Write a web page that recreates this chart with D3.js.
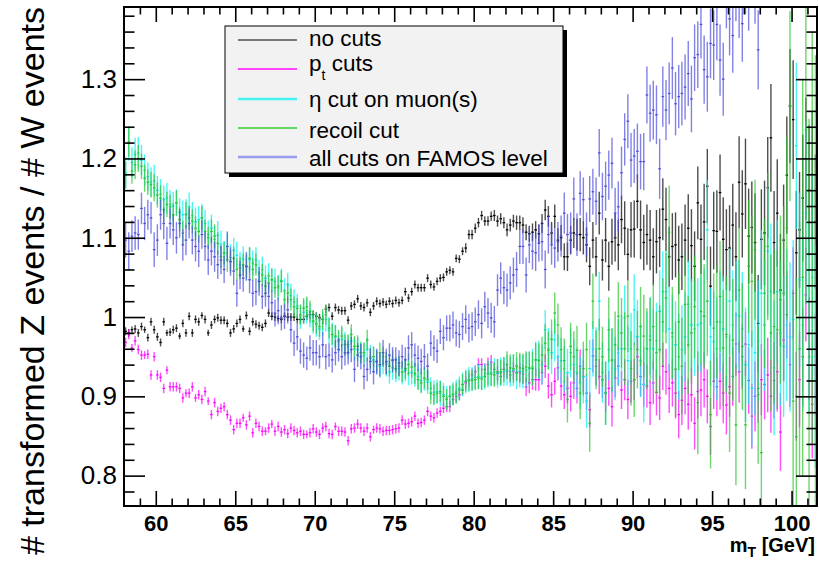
<!DOCTYPE html>
<html>
<head>
<meta charset="utf-8">
<script src="https://cdn.jsdelivr.net/npm/d3@7/dist/d3.min.js"></script>
<style>
  body { margin: 0; background: #fff; }
  svg { display: block; }
  text { font-family: "Liberation Sans", Arial, Helvetica, sans-serif; }
</style>
</head>
<body>
<svg id="chart" width="820" height="562"></svg>
<script>
// Histogram binning: 0.2 GeV bins starting at 58 GeV (218 bins up to 101.6 GeV)
const binLow = 58;
const binWidth = 0.2;

// Ratio of transformed Z events to W events, one value per bin
const noCuts = [
  .982,.980,.984,.985,.980, .988,.984,.974,.994,.984, .975,.968,.994,.980,.981, .984,.986,.976,.992,.980,
  1.001,.980,.997,.994,1.002, .997,.980,.990,.997,.999, .996,.996,.992,.980,.985, .992,.997,.985,1.002,.982,
  .994,.991,.989,.987,.992, 1.005,1.001,1.000,.998,.997, 1.001,1.000,1.000,1.000,.997, .997,.997,1.001,1.003,1.003,
  1.001,.999,.997,1.010,1.012, 1.001,1.012,1.009,1.008,1.008, .996,1.014,1.016,1.023,1.014, 1.012,1.018,1.006,1.014,1.020,
  1.017,1.019,1.016,1.020,1.017, 1.021,1.018,1.021,1.032,1.024, 1.032,1.041,1.037,1.037,1.037, 1.049,1.041,1.038,1.045,1.049,
  1.050,1.057,1.059,1.057,1.074, 1.073,1.083,1.087,1.104,1.104, 1.112,1.119,1.128,1.121,1.121, 1.127,1.128,1.121,1.124,1.119,
  1.110,1.116,1.121,1.119,1.119, 1.116,1.107,1.105,1.107,1.110, 1.105,1.118,1.135,1.127,1.106, 1.127,1.097,1.100,1.076,1.076,
  1.097,1.106,1.104,1.104,1.100, 1.091,1.064,1.097,1.076,1.131, 1.072,1.097,1.064,1.095,1.100, 1.091,1.123,1.112,1.079,1.110,
  1.111,1.146,1.110,1.094,1.104, 1.097,1.076,1.095,1.100,1.136, 1.123,1.076,1.089,1.091,1.072, 1.076,1.097,1.112,1.090,1.064,
  1.144,1.098,1.120,1.165,1.039, 1.109,1.108,1.157,1.098,1.085, 1.087,1.116,1.076,1.170,1.130, 1.168,1.102,1.113,1.094,.992,
  1.098,1.106,1.163,1.226,1.094, 1.131,1.034,1.097,1.179,1.266, 1.249,1.081,1.110,1.150,1.200, 1.160,1.180,1.120
];
const noCutsErr = [
  .005,.005,.004,.005,.005, .005,.004,.005,.005,.005, .005,.005,.005,.004,.005, .005,.005,.004,.005,.005,
  .005,.005,.005,.005,.004, .005,.004,.005,.005,.005, .005,.005,.005,.005,.005, .005,.005,.004,.005,.005,
  .005,.005,.005,.005,.005, .005,.005,.005,.004,.005, .005,.005,.005,.005,.005, .005,.005,.005,.005,.005,
  .005,.005,.005,.005,.005, .005,.005,.005,.005,.005, .005,.005,.005,.005,.005, .005,.005,.005,.005,.005,
  .005,.005,.005,.005,.005, .005,.005,.005,.005,.005, .005,.005,.005,.005,.005, .005,.005,.005,.005,.005,
  .005,.005,.005,.005,.005, .005,.005,.006,.006,.006, .006,.006,.006,.006,.006, .006,.007,.007,.007,.007,
  .008,.008,.008,.009,.009, .010,.010,.010,.011,.011, .012,.012,.013,.013,.014, .015,.015,.016,.017,.018,
  .018,.019,.020,.021,.021, .022,.024,.023,.025,.027, .026,.028,.031,.029,.030, .032,.030,.034,.033,.035,
  .036,.034,.037,.035,.038, .038,.036,.040,.037,.039, .040,.038,.042,.041,.043, .042,.045,.043,.046,.044,
  .046,.044,.048,.047,.050, .049,.052,.048,.053,.051, .054,.052,.056,.058,.055, .057,.060,.058,.062,.061,
  .063,.066,.064,.068,.065, .068,.071,.070,.074,.072, .075,.078,.073,.080,.077, .082,.079,.085
];

const ptCuts = [
  .968,.978,.961,.970,.959, .952,.952,.953,.927,.950, .927,.924,.910,.933,.912, .912,.912,.910,.898,.904,
  .904,.912,.898,.902,.896, .906,.894,.877,.892,.881, .885,.887,.877,.870,.858, .866,.866,.873,.864,.875,
  .854,.866,.862,.856,.856, .860,.865,.856,.862,.855, .858,.853,.860,.857,.854, .856,.852,.852,.854,.859,
  .855,.852,.860,.862,.853, .852,.862,.856,.856,.855, .844,.859,.860,.865,.860, .856,.860,.849,.858,.860,
  .859,.856,.857,.857,.858, .859,.860,.870,.865,.866, .868,.875,.866,.867,.870, .881,.875,.873,.879,.881,
  .885,.887,.887,.896,.900, .902,.908,.917,.921,.927, .931,.940,.940,.934,.940, .943,.934,.929,.925,.934,
  .932,.927,.932,.930,.930, .928,.912,.917,.921,.921, .921,.930,.938,.913,.902, .919,.936,.913,.902,.910,
  .900,.917,.910,.938,.925, .904,.883,.951,.938,.925, .921,.904,.910,.887,.923, .938,.908,.921,.896,.919,
  .921,.950,.925,.915,.913, .892,.917,.905,.898,.938, .931,.910,.917,.904,.877, .895,.910,.890,.902,.866,
  .906,.908,.921,.900,.862, .919,.912,.919,.904,.889, .912,.925,.966,.931,.950, .966,.920,.875,.900,.910,
  .921,.915,.927,.900,.920, .931,.855,.971,1.003,.940, 1.030,.900,.921,.950,1.028, .960,.890,.940
];
const ptCutsErr = [
  .006,.006,.005,.006,.006, .006,.005,.006,.006,.006, .006,.006,.006,.005,.006, .006,.006,.006,.006,.005,
  .006,.006,.005,.006,.006, .006,.005,.006,.006,.006, .006,.006,.006,.006,.006, .006,.006,.005,.006,.006,
  .006,.006,.006,.006,.005, .006,.005,.006,.006,.006, .006,.006,.006,.006,.006, .006,.006,.005,.006,.006,
  .006,.006,.006,.006,.006, .006,.005,.006,.006,.006, .006,.006,.006,.006,.006, .006,.006,.006,.005,.006,
  .006,.006,.006,.006,.006, .006,.006,.006,.006,.006, .006,.006,.006,.006,.006, .006,.006,.006,.006,.006,
  .006,.007,.007,.007,.007, .007,.007,.007,.008,.008, .008,.008,.008,.008,.009, .009,.009,.009,.010,.010,
  .010,.010,.011,.011,.012, .012,.012,.013,.013,.014, .014,.015,.015,.016,.016, .017,.016,.018,.018,.019,
  .019,.020,.019,.021,.020, .021,.022,.021,.023,.022, .023,.024,.022,.025,.024, .025,.024,.026,.025,.027,
  .026,.027,.025,.028,.027, .028,.027,.029,.028,.030, .029,.031,.030,.032,.030, .031,.033,.032,.034,.033,
  .034,.033,.035,.034,.036, .035,.037,.036,.038,.037, .038,.037,.040,.039,.041, .040,.042,.041,.044,.043,
  .045,.044,.047,.046,.048, .050,.049,.052,.055,.053, .058,.056,.060,.062,.059, .065,.068,.064
];

const etaCut = [
  1.182,1.219,1.195,1.205,1.207, 1.198,1.185,1.177,1.170,1.172, 1.160,1.155,1.148,1.150,1.142, 1.140,1.144,1.132,1.129,1.130,
  1.139,1.128,1.120,1.123,1.125, 1.118,1.104,1.112,1.098,1.103, 1.092,1.080,1.089,1.075,1.084, 1.078,1.066,1.073,1.063,1.072,
  1.068,1.072,1.055,1.060,1.049, 1.052,1.047,1.045,1.037,1.046, 1.033,1.041,1.027,1.019,1.014, 1.000,1.006,1.008,1.002,.994,
  .990,.985,.992,.997,.983, .978,.975,.969,.972,.966, .962,.970,.960,.959,.955, .952,.959,.950,.946,.943,
  .938,.942,.940,.931,.936, .934,.935,.930,.933,.929, .930,.927,.925,.920,.922, .918,.910,.905,.906,.904,
  .902,.898,.900,.903,.906, .910,.915,.919,.921,.922, .924,.925,.924,.925,.928, .930,.931,.929,.931,.931,
  .933,.931,.933,.929,.932, .931,.933,.935,.937,.946, .946,.940,.984,.960,.955, .971,.950,.945,.935,.930,
  .955,.940,.930,.917,.925, .894,.935,.960,.950,1.020, .930,.904,.959,.945,.935, .955,.960,.999,.945,.960,
  1.009,.975,.945,.915,.960, .976,.960,.970,1.007,1.032, 1.032,.985,.975,.965,.950, .959,.975,1.016,.990,.985,
  .990,.992,1.001,1.110,.975, .969,.960,.994,.985,.975, 1.020,.990,1.003,1.001,.985, .940,.965,.910,.955,.970,
  1.030,.990,1.083,1.032,.936, 1.032,.980,.963,.990,.975, .997,1.216,1.047,.990,1.131, 1.000,1.050,.950
];
const etaCutErr = [
  .020,.022,.019,.021,.020, .019,.020,.018,.019,.020, .018,.019,.018,.019,.018, .018,.017,.018,.018,.019,
  .018,.017,.018,.017,.018, .017,.018,.017,.017,.018, .017,.016,.017,.017,.016, .017,.016,.016,.017,.016,
  .016,.016,.017,.016,.016, .016,.015,.016,.016,.015, .016,.015,.015,.016,.015, .015,.015,.016,.015,.015,
  .015,.014,.015,.015,.016, .015,.015,.014,.015,.015, .015,.016,.015,.015,.014, .015,.015,.015,.016,.015,
  .015,.014,.015,.015,.015, .016,.015,.015,.014,.015, .015,.015,.016,.015,.015, .015,.014,.015,.015,.016,
  .015,.015,.014,.015,.015, .015,.015,.015,.016,.015, .015,.016,.016,.016,.017, .017,.017,.018,.018,.018,
  .019,.019,.020,.020,.021, .021,.022,.022,.023,.023, .024,.025,.025,.026,.027, .027,.028,.029,.029,.030,
  .031,.032,.031,.033,.034, .034,.036,.035,.037,.037, .038,.040,.039,.041,.040, .042,.043,.041,.044,.045,
  .045,.047,.046,.048,.047, .049,.050,.048,.052,.051, .052,.054,.053,.055,.054, .056,.057,.055,.058,.059,
  .059,.061,.060,.063,.062, .063,.065,.064,.067,.066, .067,.069,.068,.071,.072, .072,.075,.073,.078,.076,
  .080,.083,.081,.086,.085, .090,.092,.089,.096,.094, .100,.105,.110,.108,.115, .120,.130,.140
];

const recoilCut = [
  1.179,1.221,1.184,1.192,1.200, 1.190,1.175,1.170,1.167,1.163, 1.154,1.150,1.135,1.142,1.139, 1.129,1.144,1.123,1.106,1.129,
  1.125,1.121,1.112,1.108,1.125, 1.108,1.100,1.108,1.102,1.093, 1.076,1.081,1.072,1.070,1.074, 1.060,1.062,1.066,1.064,1.074,
  1.060,1.066,1.045,1.053,1.039, 1.043,1.047,1.037,1.039,1.045, 1.022,1.030,1.022,1.013,1.011, 1.003,1.011,1.013,1.007,.995,
  .992,.988,.997,1.003,.986, .978,.976,.971,.976,.965, .965,.978,.963,.963,.955, .955,.971,.948,.950,.944,
  .955,.950,.942,.938,.945, .935,.938,.931,.935,.940, .937,.929,.921,.917,.923, .921,.904,.902,.904,.906,
  .900,.896,.900,.902,.904, .908,.915,.919,.920,.920, .921,.923,.922,.925,.929, .928,.927,.931,.930,.934,
  .940,.936,.935,.938,.936, .935,.937,.936,.935,.946, .945,.952,.967,.958,.972, 1.005,.990,.959,.945,.896,
  .963,.950,.958,.904,.935, .959,.866,1.020,.946,.960, .950,.904,.984,.946,.965, 1.001,.980,.960,1.001,.935,
  .921,.959,.988,.976,.960, .971,.988,.955,.959,.994, 1.024,1.107,.980,.934,.994, .938,1.016,.965,.980,1.013,
  .892,1.007,1.001,1.020,.877, .986,.994,1.026,.961,.978, .904,.971,.864,1.034,.963, .864,1.064,1.045,1.085,.902,
  .829,1.030,1.089,.980,.988, .984,1.022,1.030,1.112,1.266, .894,.849,.960,1.050,1.236, .950,1.100,.980
];
const recoilCutErr = [
  .017,.019,.016,.018,.017, .016,.017,.016,.016,.017, .016,.016,.015,.016,.015, .015,.016,.015,.015,.016,
  .015,.015,.015,.014,.015, .015,.014,.015,.015,.014, .014,.014,.015,.014,.014, .014,.014,.014,.014,.014,
  .014,.014,.013,.014,.014, .013,.014,.013,.013,.014, .013,.013,.014,.013,.013, .013,.013,.013,.014,.013,
  .013,.013,.013,.013,.013, .013,.014,.013,.013,.013, .013,.013,.013,.014,.013, .013,.013,.013,.013,.013,
  .013,.013,.014,.013,.013, .013,.013,.013,.013,.014, .013,.013,.013,.013,.013, .013,.014,.013,.013,.013,
  .013,.013,.013,.013,.013, .013,.013,.013,.013,.013, .013,.014,.014,.014,.015, .015,.015,.016,.016,.016,
  .017,.017,.018,.018,.019, .019,.020,.020,.021,.021, .022,.023,.024,.024,.025, .026,.027,.028,.028,.029,
  .030,.032,.031,.033,.034, .034,.036,.035,.037,.038, .038,.040,.041,.040,.042, .043,.044,.046,.045,.047,
  .047,.049,.050,.052,.051, .053,.054,.052,.056,.055, .057,.059,.058,.060,.061, .061,.063,.062,.064,.065,
  .065,.067,.066,.069,.068, .069,.071,.070,.073,.074, .074,.077,.076,.079,.080, .081,.084,.083,.088,.087,
  .090,.094,.093,.099,.097, .100,.106,.110,.115,.120, .140,.200,.160,.250,.220, .300,.260,.350
];

const allCutsFamos = [
  1.097,1.083,1.102,1.106,1.104, 1.137,1.118,1.129,1.125,1.085, 1.097,1.129,1.118,1.093,1.118, 1.110,1.100,1.118,1.091,1.097,
  1.118,1.097,1.089,1.083,1.104, 1.089,1.072,1.083,1.076,1.066, 1.072,1.060,1.089,1.070,1.058, 1.030,1.053,1.049,1.064,1.047,
  1.030,1.032,1.045,1.026,1.030, 1.026,1.018,1.005,1.008,.999, 1.001,1.009,.984,.967,.975, .957,.952,.948,.961,.955,
  .955,.950,.965,.950,.952, .946,.955,.959,.950,.955, .955,.959,.934,.952,.950, .925,.934,.944,.931,.944,
  .940,.955,.944,.952,.946, .946,.942,.950,.946,.961, .965,.952,.948,.944,.950, .938,.967,.961,.957,.982,
  .974,.986,.986,.990,.980, .978,.988,.997,.986,.988, .994,1.003,.992,1.013,1.005, .999,.994,1.034,1.049,1.037,
  1.034,1.043,1.053,1.060,1.089, 1.089,1.053,1.091,1.083,1.081, 1.093,1.095,1.060,1.104,1.091, 1.087,1.095,1.102,1.131,1.104,
  1.106,1.149,1.104,1.156,1.148, 1.104,1.149,1.158,1.146,1.207, 1.152,1.165,1.179,1.194,1.131, 1.139,1.182,1.224,1.247,1.198,
  1.203,1.209,1.196,1.196,1.280, 1.257,1.261,1.255,1.187,1.278, 1.261,1.282,1.314,1.269,1.278, 1.282,1.290,1.307,1.275,1.327,
  1.331,1.369,1.312,1.303,1.345, 1.343,1.369,1.324,1.300,1.410, 1.376,1.355,1.420,1.400,1.370, 1.430,1.410,1.450,1.420,1.337,
  1.460,1.480,1.450,1.500,1.470, 1.520,1.490,1.550,1.510,1.530, 1.560,1.540,1.580,1.600,1.570, 1.620,1.590,1.640
];
const allCutsFamosErr = [
  .022,.024,.020,.021,.019, .020,.021,.019,.020,.022, .020,.019,.020,.021,.019, .019,.020,.018,.020,.019,
  .019,.018,.019,.020,.018, .018,.019,.018,.019,.018, .018,.017,.019,.018,.018, .017,.018,.017,.018,.017,
  .017,.017,.018,.016,.017, .017,.016,.017,.017,.016, .016,.017,.016,.016,.017, .016,.016,.015,.016,.016,
  .016,.015,.016,.016,.015, .016,.016,.015,.016,.016, .015,.016,.016,.015,.016, .016,.015,.016,.016,.016,
  .015,.016,.016,.015,.016, .016,.016,.015,.016,.016, .016,.015,.016,.016,.016, .016,.016,.016,.015,.016,
  .016,.016,.017,.017,.017, .017,.017,.018,.018,.018, .018,.018,.019,.019,.019, .019,.020,.020,.020,.021,
  .021,.021,.022,.022,.022, .022,.022,.023,.023,.023, .023,.024,.024,.024,.025, .025,.025,.026,.026,.026,
  .026,.027,.027,.028,.028, .028,.029,.029,.030,.030, .030,.031,.031,.032,.032, .032,.033,.033,.034,.034,
  .034,.035,.035,.036,.036, .036,.037,.037,.038,.038, .038,.039,.039,.040,.040, .040,.041,.041,.042,.042,
  .042,.043,.043,.044,.044, .044,.045,.045,.046,.046, .046,.047,.047,.048,.048, .048,.049,.049,.050,.050,
  .050,.051,.051,.052,.052, .052,.053,.053,.054,.054, .054,.055,.055,.056,.056, .056,.057,.057
];

// Axis ticks and labels
const xMajorTicks = [60, 65, 70, 75, 80, 85, 90, 95, 100];
const xMinorTicks = [59, 61, 62, 63, 64, 66, 67, 68, 69, 71, 72, 73, 74, 76, 77, 78, 79, 81, 82, 83, 84,
                     86, 87, 88, 89, 91, 92, 93, 94, 96, 97, 98, 99, 101];
const yMajorTicks = [0.8, 0.9, 1.0, 1.1, 1.2, 1.3];
const yTickLabels = ["0.8", "0.9", "1", "1.1", "1.2", "1.3"];
const yMinorTicks = [0.78, 0.82, 0.84, 0.86, 0.88, 0.92, 0.94, 0.96, 0.98, 1.02, 1.04, 1.06, 1.08,
                     1.12, 1.14, 1.16, 1.18, 1.22, 1.24, 1.26, 1.28, 1.32, 1.34, 1.36, 1.38];

const series = [
  { label: "no cuts",                 values: noCuts,       errors: noCutsErr,       color: "#000000", legendColor: "#000000", legendWidth: 1.2 },
  { label: "pt cuts",                 values: ptCuts,       errors: ptCutsErr,       color: "#ff00ff", legendColor: "#ff44ff", legendWidth: 2.2 },
  { label: "η cut on muon(s)",        values: etaCut,       errors: etaCutErr,       color: "#00f0f0", legendColor: "#44f4f4", legendWidth: 2.6 },
  { label: "recoil cut",              values: recoilCut,    errors: recoilCutErr,    color: "#2fc42f", legendColor: "#33cc33", legendWidth: 1.4 },
  { label: "all cuts on FAMOS level", values: allCutsFamos, errors: allCutsFamosErr, color: "#4c4cdc", legendColor: "#9a9aee", legendWidth: 2.6 }
];

// Layout
const svg = d3.select("#chart");
const frame = { left: 124, right: 817, top: 7, bottom: 506 };

const x = d3.scaleLinear().domain([58, 101.6]).range([frame.left, frame.right]);
const y = d3.scaleLinear().domain([0.7617, 1.391]).range([frame.bottom, frame.top]);

svg.append("defs").append("clipPath").attr("id", "plot-clip")
  .append("rect")
  .attr("x", frame.left).attr("y", frame.top)
  .attr("width", frame.right - frame.left).attr("height", frame.bottom - frame.top);

// Data: error bars with horizontal bin-width markers
const plot = svg.append("g").attr("clip-path", "url(#plot-clip)");
series.forEach(s => {
  const pts = s.values.map((v, i) => ({
    lo: binLow + binWidth * i,
    hi: binLow + binWidth * (i + 1),
    v: v,
    e: s.errors[i]
  }));
  const g = plot.append("g");
  g.selectAll("line.err").data(pts).join("line")
    .attr("class", "err")
    .attr("x1", d => x((d.lo + d.hi) / 2)).attr("x2", d => x((d.lo + d.hi) / 2))
    .attr("y1", d => y(d.v - d.e)).attr("y2", d => y(d.v + d.e))
    .attr("stroke", s.color).attr("stroke-width", 1.4).attr("stroke-opacity", 0.7);
  g.selectAll("line.bin").data(pts).join("line")
    .attr("class", "bin")
    .attr("x1", d => x(d.lo) + 0.3).attr("x2", d => x(d.hi) - 0.3)
    .attr("y1", d => y(d.v)).attr("y2", d => y(d.v))
    .attr("stroke", s.color).attr("stroke-width", 1.3);
});

// Axes (ticks point inward, mirrored on top and right)
function styleAxis(g) {
  g.select(".domain").remove();
  g.selectAll(".tick line").attr("stroke", "#000").attr("stroke-width", 1.6);
}

svg.append("g").attr("transform", `translate(0,${frame.bottom})`)
  .call(d3.axisBottom(x).tickValues(xMajorTicks).tickSizeInner(-15).tickSizeOuter(0).tickPadding(9).tickFormat(d3.format("d")))
  .call(styleAxis)
  .call(g => g.selectAll("text").attr("font-size", 22).attr("font-weight", "bold").attr("fill", "#000")
    .attr("font-family", "'Liberation Sans', Arial, sans-serif"));
svg.append("g").attr("transform", `translate(0,${frame.bottom})`)
  .call(d3.axisBottom(x).tickValues(xMinorTicks).tickSizeInner(-7.5).tickSizeOuter(0).tickFormat(""))
  .call(styleAxis);
svg.append("g").attr("transform", `translate(0,${frame.top})`)
  .call(d3.axisTop(x).tickValues(xMajorTicks).tickSizeInner(-15).tickSizeOuter(0).tickFormat(""))
  .call(styleAxis);
svg.append("g").attr("transform", `translate(0,${frame.top})`)
  .call(d3.axisTop(x).tickValues(xMinorTicks).tickSizeInner(-7.5).tickSizeOuter(0).tickFormat(""))
  .call(styleAxis);

svg.append("g").attr("transform", `translate(${frame.left},0)`)
  .call(d3.axisLeft(y).tickValues(yMajorTicks).tickSizeInner(-21).tickSizeOuter(0).tickPadding(7)
    .tickFormat((d, i) => yTickLabels[i]))
  .call(styleAxis)
  .call(g => g.selectAll("text").attr("font-size", 26).attr("fill", "#000")
    .attr("font-family", "'Liberation Sans', Arial, sans-serif"));
svg.append("g").attr("transform", `translate(${frame.left},0)`)
  .call(d3.axisLeft(y).tickValues(yMinorTicks).tickSizeInner(-10.5).tickSizeOuter(0).tickFormat(""))
  .call(styleAxis);
svg.append("g").attr("transform", `translate(${frame.right},0)`)
  .call(d3.axisRight(y).tickValues(yMajorTicks).tickSizeInner(-21).tickSizeOuter(0).tickFormat(""))
  .call(styleAxis);
svg.append("g").attr("transform", `translate(${frame.right},0)`)
  .call(d3.axisRight(y).tickValues(yMinorTicks).tickSizeInner(-10.5).tickSizeOuter(0).tickFormat(""))
  .call(styleAxis);

// Frame
svg.append("rect")
  .attr("x", frame.left).attr("y", frame.top)
  .attr("width", frame.right - frame.left).attr("height", frame.bottom - frame.top)
  .attr("fill", "none").attr("stroke", "#000").attr("stroke-width", 2);

// Axis titles
svg.append("text")
  .attr("transform", `translate(44,281) rotate(-90)`)
  .attr("text-anchor", "middle")
  .attr("font-size", 34)
  .attr("fill", "#000")
  .text("# transformed Z events / # W events");

const xTitle = svg.append("text")
  .attr("x", 815).attr("y", 552)
  .attr("text-anchor", "end")
  .attr("font-size", 20).attr("font-weight", "bold").attr("fill", "#000");
xTitle.append("tspan").text("m");
xTitle.append("tspan").attr("dy", 5).attr("font-size", 14).text("T");
xTitle.append("tspan").attr("dy", -5).text(" [GeV]");

// Legend
const legend = { x: 225, y: 26, w: 338, h: 147 };
svg.append("rect").attr("x", legend.x + 4).attr("y", legend.y + 4)
  .attr("width", legend.w).attr("height", legend.h).attr("fill", "#000");
svg.append("rect").attr("x", legend.x).attr("y", legend.y)
  .attr("width", legend.w).attr("height", legend.h)
  .attr("fill", "#f2f2f2").attr("stroke", "#000").attr("stroke-width", 1);

const legendLineY = [40, 69, 99, 128, 157];
const legendTextY = [46, 71, 107, 138, 166];
series.forEach((s, i) => {
  svg.append("line")
    .attr("x1", 238).attr("x2", 297)
    .attr("y1", legendLineY[i]).attr("y2", legendLineY[i])
    .attr("stroke", s.legendColor).attr("stroke-width", s.legendWidth);
  const t = svg.append("text").attr("x", 309).attr("y", legendTextY[i])
    .attr("font-size", 22.5).attr("fill", "#000");
  if (s.label === "pt cuts") {
    t.append("tspan").text("p");
    t.append("tspan").attr("dy", 9).attr("font-size", 14).text("t");
    t.append("tspan").attr("dy", -9).text(" cuts");
  } else {
    t.text(s.label);
  }
});
</script>
</body>
</html>
